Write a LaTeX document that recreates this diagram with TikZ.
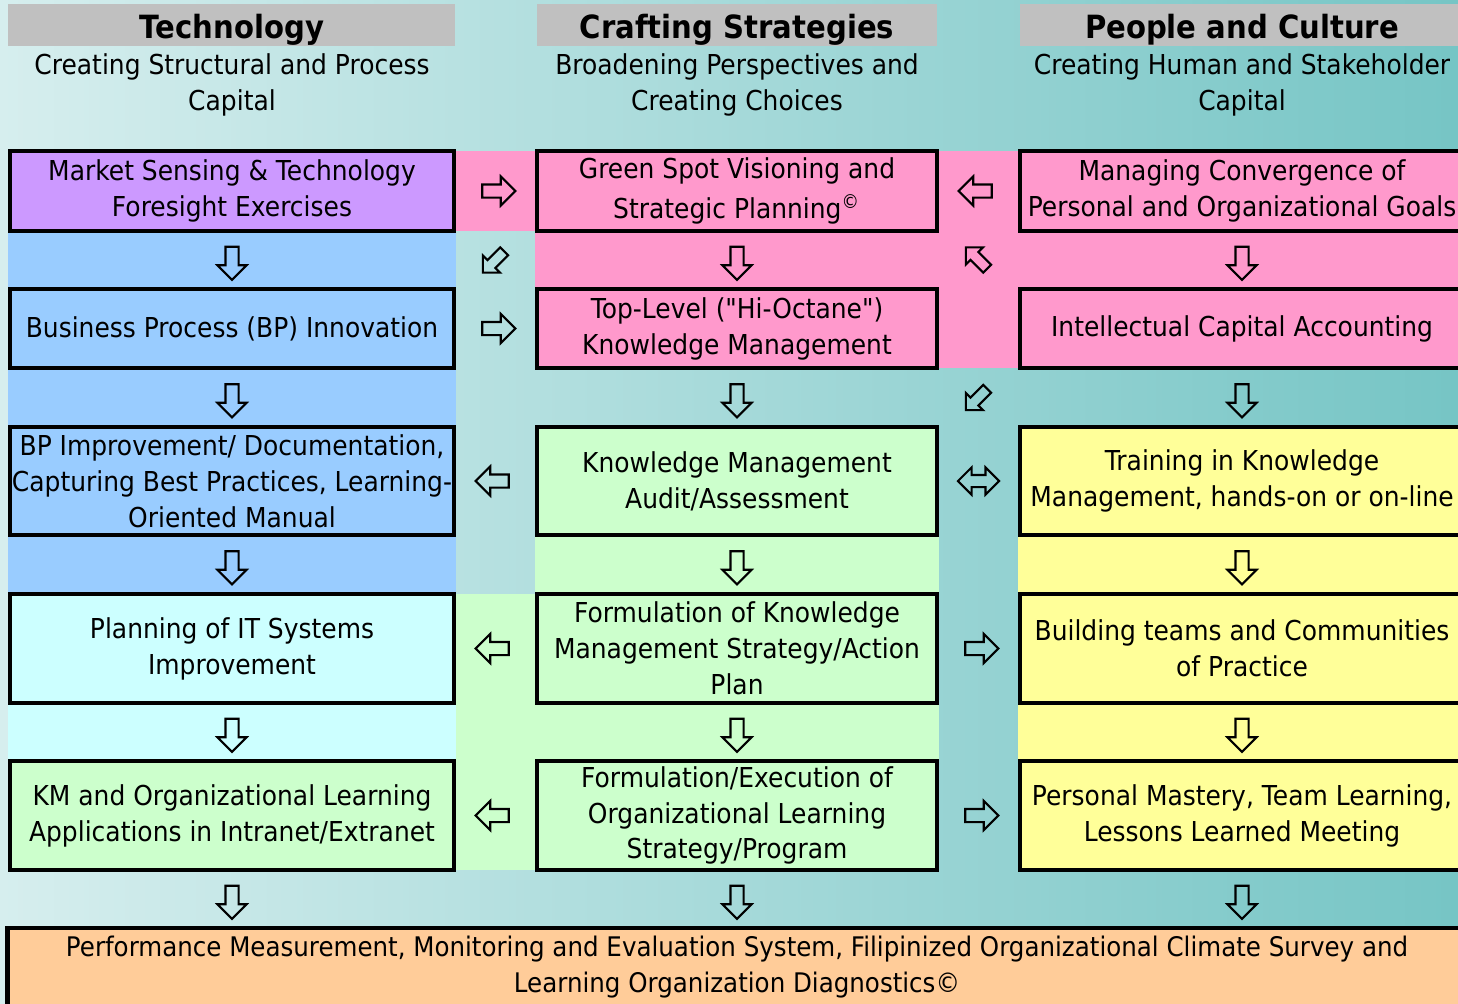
\documentclass[tikz,border=0pt]{standalone}
\usepackage{fontspec}
\setmainfont{DejaVu Sans}[FakeStretch=0.91, Ligatures=TeXOff]
\usetikzlibrary{shapes.arrows,calc}

\definecolor{bg_left}{HTML}{D6EEEE}
\definecolor{bg_right}{HTML}{76C5C5}
\definecolor{c_gray}{HTML}{C0C0C0}
\definecolor{c_purple}{HTML}{CC99FF}
\definecolor{c_pink}{HTML}{FF99CC}
\definecolor{c_blue}{HTML}{99CCFF}
\definecolor{c_cyan}{HTML}{CCFFFF}
\definecolor{c_green}{HTML}{CCFFCC}
\definecolor{c_yellow}{HTML}{FFFF99}
\definecolor{c_orange}{HTML}{FFCC99}

\tikzset{box_style/.style={draw=black, line width=1.3pt, align=center, inner sep=0pt, font=\fontsize{7.8}{10.2}\selectfont}}
\tikzset{wide_style/.style={box_style, minimum width=4.44cm}}
\tikzset{mid_style/.style={box_style, minimum width=4.0cm}}
\tikzset{head_style/.style={inner sep=0pt, font=\fontsize{9.1}{10}\selectfont\bfseries}}
\tikzset{sub_style/.style={align=center, inner sep=0pt, font=\fontsize{7.8}{10.2}\selectfont}}
\tikzset{arr_style/.style={single arrow, draw=black, line width=0.6pt, inner sep=0.055cm, minimum height=0.33cm, single arrow head extend=0.08cm}}
\tikzset{darr_style/.style={arr_style, rotate=-90}}
\tikzset{rarr_style/.style={arr_style}}
\tikzset{larr_style/.style={arr_style, rotate=180}}
\tikzset{diag_style/.style={single arrow, draw=black, line width=0.6pt, inner sep=0.045cm, minimum height=0.3cm, single arrow head extend=0.065cm}}
\tikzset{lrarr_style/.style={double arrow, draw=black, line width=0.6pt, inner sep=0.05cm, minimum height=0.41cm, double arrow head extend=0.075cm}}

\begin{document}
\begin{tikzpicture}[x=0.01cm, y=-0.01cm]
    \useasboundingbox (0,0) rectangle (1458,1003);
    \clip (0,0) rectangle (1458,1003);
    \shade[left color=bg_left, right color=bg_right] (0,0) rectangle (1458,1003);

    % coloured bands behind the arrows
    \fill[c_pink] (456,151) rectangle (1018,231);
    \fill[c_pink] (535,231) rectangle (1458,289);
    \fill[c_pink] (939,289) rectangle (1018,368);
    \fill[c_blue] (8,231) rectangle (456,289);
    \fill[c_blue] (8,368) rectangle (456,427);
    \fill[c_blue] (8,535) rectangle (456,594);
    \fill[c_cyan] (8,703) rectangle (456,761);
    \fill[c_green] (535,535) rectangle (939,594);
    \fill[c_green] (456,594) rectangle (535,870);
    \fill[c_green] (535,703) rectangle (939,761);
    \fill[c_yellow] (1018,535) rectangle (1458,594);
    \fill[c_yellow] (1018,703) rectangle (1458,761);

    % headers
    \fill[c_gray] (8,4) rectangle (455,46);
    \fill[c_gray] (537,4) rectangle (937,46);
    \fill[c_gray] (1020,4) rectangle (1458,46);
    \node[head_style] (h_tech) at (232,30) {Technology};
    \node[head_style] (h_craft) at (737,30) {Crafting Strategies};
    \node[head_style] (h_people) at (1242,30) {People and Culture};
    \node[sub_style] (s_tech) at (232,85) {Creating Structural and Process\\Capital};
    \node[sub_style] (s_craft) at (737,85) {Broadening Perspectives and\\Creating Choices};
    \node[sub_style] (s_people) at (1242,85) {Creating Human and Stakeholder\\Capital};

    % technology column
    \node[wide_style, fill=c_purple, minimum height=0.8cm] (t1) at (232,191) {Market Sensing \& Technology\\Foresight Exercises};
    \node[wide_style, fill=c_blue, minimum height=0.79cm] (t2) at (232,328.5) {Business Process (BP) Innovation};
    \node[wide_style, fill=c_blue, minimum height=1.08cm] (t3) at (232,481) {BP Improvement/ Documentation,\\Capturing Best Practices, Learning-\\Oriented Manual};
    \node[wide_style, fill=c_cyan, minimum height=1.09cm] (t4) at (232,648.5) {Planning of IT Systems\\Improvement};
    \node[wide_style, fill=c_green, minimum height=1.09cm] (t5) at (232,815.5) {KM and Organizational Learning\\Applications in Intranet/Extranet};

    % strategies column
    \node[mid_style, fill=c_pink, minimum height=0.8cm] (c1) at (737,191) {Green Spot Visioning and\\[1pt]Strategic Planning\textsuperscript{©}};
    \node[mid_style, fill=c_pink, minimum height=0.79cm] (c2) at (737,328.5) {Top-Level ("Hi-Octane")\\Knowledge Management};
    \node[mid_style, fill=c_green, minimum height=1.08cm] (c3) at (737,481) {Knowledge Management\\Audit/Assessment};
    \node[mid_style, fill=c_green, minimum height=1.09cm] (c4) at (737,648.5) {Formulation of Knowledge\\Management Strategy/Action\\Plan};
    \node[mid_style, fill=c_green, minimum height=1.09cm] (c5) at (737,815.5) {Formulation/Execution of\\Organizational Learning\\Strategy/Program};

    % people column
    \node[wide_style, fill=c_pink, minimum height=0.8cm] (p1) at (1242,191) {Managing Convergence of\\Personal and Organizational Goals};
    \node[wide_style, fill=c_pink, minimum height=0.79cm] (p2) at (1242,328.5) {Intellectual Capital Accounting};
    \node[wide_style, fill=c_yellow, minimum height=1.08cm] (p3) at (1242,481) {Training in Knowledge\\Management, hands-on or on-line};
    \node[wide_style, fill=c_yellow, minimum height=1.09cm] (p4) at (1242,648.5) {Building teams and Communities\\of Practice};
    \node[wide_style, fill=c_yellow, minimum height=1.09cm] (p5) at (1242,815.5) {Personal Mastery, Team Learning,\\Lessons Learned Meeting};

    \node[box_style, fill=c_orange, minimum width=14.58cm, minimum height=0.78cm, font=\fontsize{7.67}{10.2}\selectfont] (perf) at (737,967) {Performance Measurement, Monitoring and Evaluation System, Filipinized Organizational Climate Survey and\\Learning Organization Diagnostics©};

    % arrows across
    \node[rarr_style] (a_tc1) at ($(t1.east)!0.5!(c1.west)$) {};
    \node[larr_style] (a_pc1) at ($(p1.west)!0.5!(c1.east)$) {};
    \node[rarr_style] (a_tc2) at ($(t2.east)!0.5!(c2.west)$) {};
    \node[larr_style] (a_ct3) at ($(t3.east)!0.5!(c3.west)$) {};
    \node[lrarr_style] (a_cp3) at ($(c3.east)!0.5!(p3.west)$) {};
    \node[larr_style] (a_ct4) at ($(t4.east)!0.5!(c4.west)$) {};
    \node[rarr_style] (a_cp4) at ($(c4.east)!0.5!(p4.west)$) {};
    \node[larr_style] (a_ct5) at ($(t5.east)!0.5!(c5.west)$) {};
    \node[rarr_style] (a_cp5) at ($(c5.east)!0.5!(p5.west)$) {};

    % diagonal arrows
    \node[diag_style, rotate=-135] (a_c1t2) at ($(c1.south west)!0.5!(t2.north east)$) {};
    \node[diag_style, rotate=135] (a_p2c1) at ($(p2.north west)!0.5!(c1.south east)$) {};
    \node[diag_style, rotate=-135] (a_p2c3) at ($(p2.south west)!0.5!(c3.north east)$) {};

    % arrows down
    \node[darr_style] (a_t12) at ($(t1.south)!0.5!(t2.north)$) {};
    \node[darr_style] (a_t23) at ($(t2.south)!0.5!(t3.north)$) {};
    \node[darr_style] (a_t34) at ($(t3.south)!0.5!(t4.north)$) {};
    \node[darr_style] (a_t45) at ($(t4.south)!0.5!(t5.north)$) {};
    \node[darr_style] (a_t5) at ($(t5.south)!0.5!(perf.north -| t5)$) {};
    \node[darr_style] (a_c12) at ($(c1.south)!0.5!(c2.north)$) {};
    \node[darr_style] (a_c23) at ($(c2.south)!0.5!(c3.north)$) {};
    \node[darr_style] (a_c34) at ($(c3.south)!0.5!(c4.north)$) {};
    \node[darr_style] (a_c45) at ($(c4.south)!0.5!(c5.north)$) {};
    \node[darr_style] (a_c5) at ($(c5.south)!0.5!(perf.north -| c5)$) {};
    \node[darr_style] (a_p12) at ($(p1.south)!0.5!(p2.north)$) {};
    \node[darr_style] (a_p23) at ($(p2.south)!0.5!(p3.north)$) {};
    \node[darr_style] (a_p34) at ($(p3.south)!0.5!(p4.north)$) {};
    \node[darr_style] (a_p45) at ($(p4.south)!0.5!(p5.north)$) {};
    \node[darr_style] (a_p5) at ($(p5.south)!0.5!(perf.north -| p5)$) {};

\end{tikzpicture}
\end{document}
